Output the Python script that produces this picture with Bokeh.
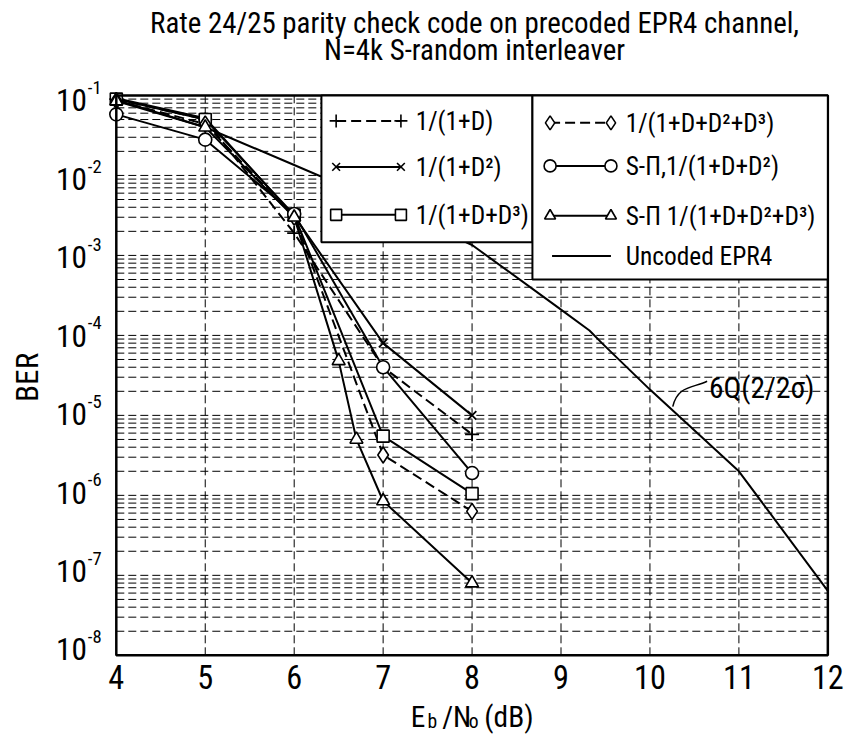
import math
from bokeh.plotting import figure
from bokeh.models import Label, BoxAnnotation, Range1d
from bokeh.embed import file_html
from bokeh.resources import INLINE

# ---------------- data ----------------
ebn0 = [4, 5, 6, 7, 8]
ber_d1 = [0.090, 0.050, 1.9e-3, 4.0e-5, 5.8e-6]          # 1/(1+D)
ber_d2 = [0.092, 0.052, 3.1e-3, 8.0e-5, 1.0e-5]          # 1/(1+D^2)
ber_dd3 = [0.090, 0.050, 3.2e-3, 5.5e-6, 1.05e-6]        # 1/(1+D+D^3)
ber_dd2d3 = [0.086, 0.044, 3.0e-3, 3.2e-6, 6.3e-7]       # 1/(1+D+D^2+D^3)
ber_spi_dd2 = [0.058, 0.028, 3.3e-3, 4.0e-5, 1.9e-6]     # S-Pi,1/(1+D+D^2)
ebn0_tri = [4, 5, 6, 6.5, 6.7, 7, 8]
ber_spi_dd2d3 = [0.085, 0.040, 3.0e-3, 4.8e-5, 5.0e-6, 8.5e-7, 8.0e-8]  # S-Pi 1/(1+D+D^2+D^3)
ebn0_unc = [4, 5, 6, 7, 8, 9, 9.32, 9.46, 10, 11, 12]
ber_unc = [0.088, 0.040, 0.0135, 4.5e-3, 1.35e-3, 2.1e-4, 1.15e-4, 8.0e-5, 2.1e-5, 2.0e-6, 6.4e-8]

x_ticks = [4, 5, 6, 7, 8, 9, 10, 11, 12]
y_exps = [-1, -2, -3, -4, -5, -6, -7, -8]

labels = ["1/(1+D)", "1/(1+D²)", "1/(1+D+D³)",
          "1/(1+D+D²+D³)", "S-\u03a0,1/(1+D+D²)", "S-\u03a0 1/(1+D+D²+D³)", "Uncoded EPR4"]

FONT = "Roboto Condensed, DejaVu Sans Condensed, Liberation Sans, sans-serif"

# ---------------- layout constants (pixels) ----------------
W, H = 845, 739
SX, SY = W / 861.0, H / 755.0            # reference picture -> canvas
FL, FR = 118 * SX, W - 843 * SX          # plot box edges
FT, FB = 97 * SY, H - 669 * SY
PX_PER_X = (W - FL - FR) / 8.0
PX_PER_DEC = (H - FT - FB) / 7.0

x_lo, x_hi = x_ticks[0], x_ticks[-1]
y_lo, y_hi = 10.0 ** y_exps[-1], 10.0 ** y_exps[0]
xr = Range1d(x_lo - FL / PX_PER_X, x_hi + FR / PX_PER_X)
yr = Range1d(10 ** (y_exps[-1] - FB / PX_PER_DEC), 10 ** (y_exps[0] + FT / PX_PER_DEC))

p = figure(width=W, height=H, y_axis_type="log", x_range=xr, y_range=yr,
           output_backend="svg", toolbar_location=None,
           min_border=0, min_border_left=0, min_border_right=0,
           min_border_top=0, min_border_bottom=0)
p.xaxis.visible = False
p.yaxis.visible = False
p.xgrid.visible = False
p.ygrid.visible = False
p.outline_line_color = None
p.background_fill_color = "white"
p.border_fill_color = "white"

# reference pixel -> data coordinates
def px_x(px):
    return x_lo + (px * SX - FL) / PX_PER_X

def px_y(py):
    return 10 ** (y_exps[0] - (py * SY - FT) / PX_PER_DEC)

def fs(n):
    return "%.1fpx" % (n * SY)

# ---------------- grid ----------------
decades = [10.0 ** e for e in y_exps]
minors = [m * 10.0 ** e for e in range(y_exps[-1], y_exps[0]) for m in range(2, 10)]
hgrid = decades[1:-1] + minors
p.multi_line(xs=[[x_lo, x_hi] for _ in hgrid], ys=[[v, v] for v in hgrid],
             line_color="black", line_width=1, line_dash="8 4")
vgrid = x_ticks[1:-1]
p.multi_line(xs=[[v, v] for v in vgrid], ys=[[y_lo, y_hi] for _ in vgrid],
             line_color="black", line_width=1, line_dash="8 4")

LW = 2

# ---------------- series ----------------
p.line(ebn0_unc, ber_unc, line_color="black", line_width=LW)
p.line(ebn0, ber_d1, line_color="black", line_width=LW, line_dash="10 5")
p.line(ebn0, ber_d2, line_color="black", line_width=LW)
p.line(ebn0, ber_dd3, line_color="black", line_width=LW)
p.line(ebn0, ber_dd2d3, line_color="black", line_width=LW, line_dash="10 5")
p.line(ebn0, ber_spi_dd2, line_color="black", line_width=LW)
p.line(ebn0_tri, ber_spi_dd2d3, line_color="black", line_width=LW)

mk = dict(line_color="black", line_width=1.6, fill_color="white")
p.scatter(ebn0, ber_d1, marker="cross", size=14, line_color="black", line_width=1.8)
p.scatter(ebn0, ber_d2, marker="x", size=12, line_color="black", line_width=1.8)
p.scatter(ebn0, ber_dd3, marker="square", size=12, **mk)
p.scatter(ebn0, ber_dd2d3, marker="diamond", size=16, **mk)
p.scatter(ebn0, ber_spi_dd2, marker="circle", size=13, **mk)
p.scatter(ebn0_tri, ber_spi_dd2d3, marker="triangle", size=13, **mk)

# plot frame
p.quad(left=[x_lo], right=[x_hi], bottom=[y_lo], top=[y_hi],
       fill_color=None, line_color="black", line_width=2.5)

# ---------------- legends ----------------
for (l, r, t, b) in [(327, 542, 97, 247), (542, 843, 97, 285)]:
    p.add_layout(BoxAnnotation(left=px_x(l), right=px_x(r), top=px_y(t), bottom=px_y(b),
                               fill_color="white", fill_alpha=1.0,
                               line_color="black", line_width=2, line_alpha=1.0))

leg_rows = [
    (342, 408, 423, 123, "cross", 13, "10 5"),
    (342, 408, 423, 170, "x", 11, None),
    (342, 408, 423, 219, "square", 11, None),
    (560, 622, 637, 125, "diamond", 14, "10 5"),
    (560, 622, 637, 169, "circle", 12, None),
    (560, 622, 637, 220, "triangle", 11, None),
    (562, 622, 637, 261, None, 0, None),
]
for (x0, x1, xt, yrw, marker, size, dash), text in zip(leg_rows, labels):
    xs = [px_x(x0), px_x(x1)]
    ys = [px_y(yrw), px_y(yrw)]
    kw = dict(line_color="black", line_width=LW, level="overlay")
    if dash:
        kw["line_dash"] = dash
    p.line(xs, ys, **kw)
    if marker:
        if marker in ("cross", "x"):
            p.scatter(xs, ys, marker=marker, size=size, line_color="black", line_width=1.6, level="overlay")
        else:
            p.scatter(xs, ys, marker=marker, size=size, line_color="black", line_width=1.6,
                      fill_color="white", level="overlay")
    p.add_layout(Label(x=px_x(xt), y=px_y(yrw), text=text, text_font=FONT, text_font_size=fs(26),
                       text_baseline="middle", text_align="left", text_color="black"))

def lab(px, py, text, size, align="center", baseline="middle", angle=0.0):
    p.add_layout(Label(x=px_x(px), y=px_y(py), text=text, text_font=FONT, text_font_size=fs(size),
                       text_align=align, text_baseline=baseline, angle=angle,
                       text_color="black"))

# title
lab(483, 23, "Rate 24/25 parity check code on precoded EPR4 channel,", 29.5)
lab(483, 51, "N=4k S-random interleaver", 29.5)

# y tick labels
for k, e in enumerate(y_exps):
    py = 102 + k * (663 - 102) / 7.0
    lab(88, py, "10", 32, align="right")
    lab(89, py - 13, str(e), 19, align="left")

# x tick labels
for xv in x_ticks:
    lab(118 + (xv - x_lo) * (843 - 118) / 8.0, 691, str(xv), 33)

# axis titles
lab(28, 385, "BER", 32, angle=math.pi / 2)
for (px, text, size, py) in [(418, "E", 30, 732), (435, "b", 20, 737),
                             (450, "/N", 30, 732), (477, "o", 20, 737),
                             (493, "(dB)", 30, 732)]:
    lab(px, py, text, size, align="left", baseline="alphabetic")

# curve annotation
lab(722, 396, "6Q(2/2\u03c3)", 30, align="left")
p.bezier(x0=[px_x(685)], y0=[px_y(415)], x1=[px_x(720)], y1=[px_y(389)],
         cx0=[px_x(690)], cy0=[px_y(393)], cx1=[px_x(706)], cy1=[px_y(396)],
         line_color="black", line_width=1.5)

open("out.html", "w").write(file_html(p, INLINE))
